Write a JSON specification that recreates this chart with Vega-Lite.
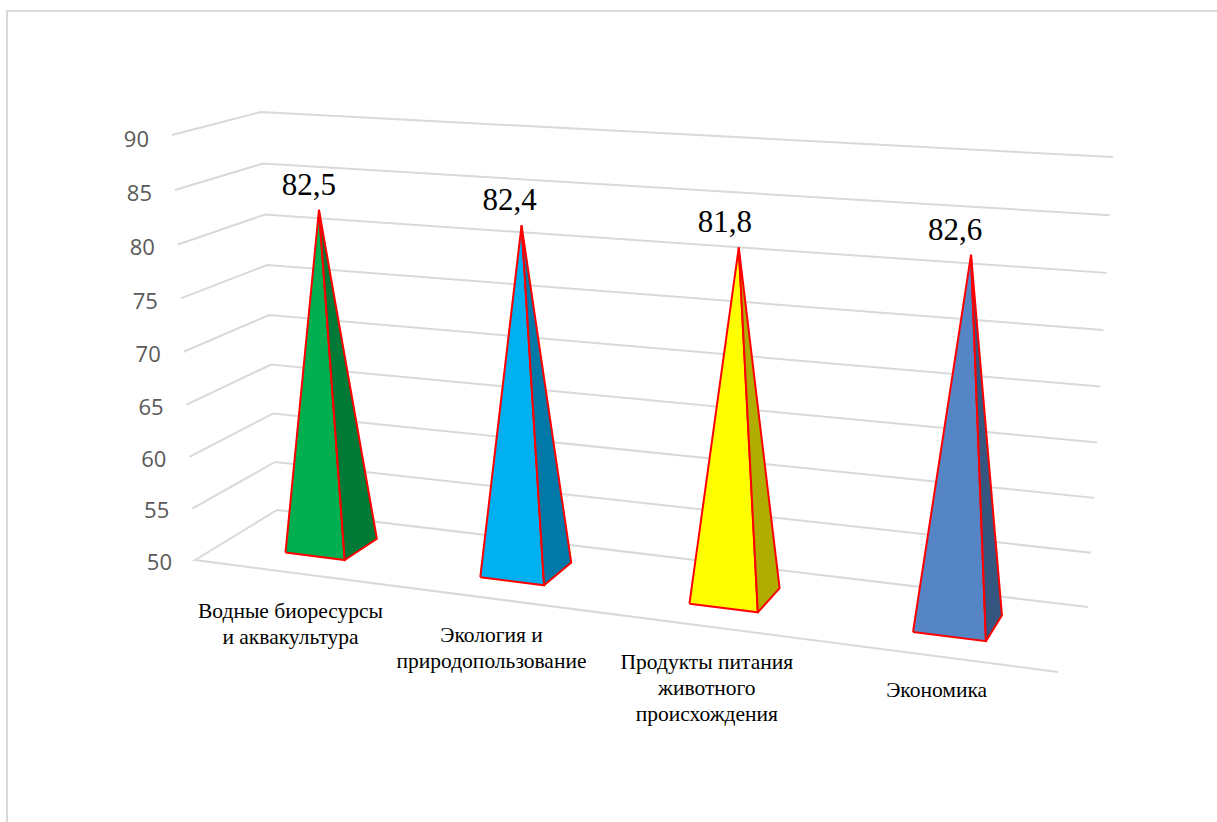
{"$schema":"https://vega.github.io/schema/vega-lite/v6.json","autosize":"none","padding":{"left":7,"top":11,"right":0,"bottom":0},"width":1216,"height":816,"background":"white","config":{"view":{"stroke":"#D9D9D9","strokeWidth":2}},"datasets":{"pyramids":[{"category":"Водные биоресурсы\nи аквакультура","value":82.5},{"category":"Экология и\nприродопользование","value":82.4},{"category":"Продукты питания\nживотного\nпроисхождения","value":81.8},{"category":"Экономика","value":82.6}],"ticks":[{"value":50},{"value":55},{"value":60},{"value":65},{"value":70},{"value":75},{"value":80},{"value":85},{"value":90}]},"layer":[{"data":{"name":"ticks"},"transform":[{"calculate":"[0,1,2,3]","as":"vertex"},{"flatten":["vertex"]},{"filter":"datum.vertex>0||datum.value==50"},{"calculate":"(datum.value-50)/40","as":"t"},{"calculate":"datum.t*(0.96+0.04*datum.t)","as":"tw"},{"calculate":"(datum.vertex==0||datum.vertex==3)?1:0","as":"u"},{"calculate":"datum.vertex>=2?1:0","as":"d"},{"calculate":"(1-datum.tw)*((1-datum.d)*((1-datum.u)*195+datum.u*1058)+datum.d*((1-datum.u)*277+datum.u*1088))+datum.tw*((1-datum.d)*((1-datum.u)*172+datum.u*1079)+datum.d*((1-datum.u)*261+datum.u*1113))","as":"X"},{"calculate":"(1-datum.tw)*((1-datum.d)*((1-datum.u)*560+datum.u*672)+datum.d*((1-datum.u)*510+datum.u*607))+datum.tw*((1-datum.d)*((1-datum.u)*135+datum.u*193)+datum.d*((1-datum.u)*112+datum.u*157))","as":"Y"},{"calculate":"datum.Y+2.5+2*datum.t","as":"labelY"}],"layer":[{"mark":{"type":"line","stroke":"#D9D9D9","strokeWidth":2,"interpolate":"linear"},"encoding":{"x":{"field":"X","type":"quantitative","scale":{"domain":[7,1223],"nice":false,"zero":false},"axis":null},"y":{"field":"Y","type":"quantitative","scale":{"domain":[827,11],"nice":false,"zero":false},"axis":null},"detail":{"field":"value","type":"nominal"},"order":{"field":"vertex","type":"quantitative"}}},{"transform":[{"filter":"datum.vertex==1"}],"mark":{"type":"text","align":"right","baseline":"middle","dx":-23,"font":"Open Sans","fontSize":22,"fill":"#595959"},"encoding":{"x":{"field":"X","type":"quantitative","scale":{"domain":[7,1223],"nice":false,"zero":false},"axis":null},"y":{"field":"labelY","type":"quantitative","scale":{"domain":[827,11],"nice":false,"zero":false},"axis":null},"text":{"field":"value","type":"nominal"}}}]},{"data":{"name":"pyramids"},"transform":[{"window":[{"op":"row_number","as":"rn"}]},{"calculate":"datum.rn-1","as":"i"},{"calculate":"0.110+0.2245*datum.i+0.0085*datum.i*datum.i","as":"c"},{"calculate":"0.035+0.0027*datum.i","as":"h"},{"calculate":"['front','right']","as":"face"},{"flatten":["face"]},{"calculate":"[0,1,2,3]","as":"vertex"},{"flatten":["vertex"]},{"calculate":"datum.face+datum.i","as":"shade"},{"calculate":"(datum.value-50)/40","as":"t"},{"calculate":"datum.vertex==2?datum.t*(0.96+0.04*datum.t):0","as":"tw"},{"calculate":"datum.vertex==2?datum.c:((datum.face=='front'&&(datum.vertex==0||datum.vertex==3))?datum.c-datum.h:datum.c+datum.h+((datum.face=='right'&&datum.vertex==1)?0.002:0))","as":"u"},{"calculate":"datum.vertex==2?0.535:((datum.face=='right'&&datum.vertex==1)?0.74:0.33)","as":"d"},{"calculate":"(1-datum.tw)*((1-datum.d)*((1-datum.u)*195+datum.u*1058)+datum.d*((1-datum.u)*277+datum.u*1088))+datum.tw*((1-datum.d)*((1-datum.u)*172+datum.u*1079)+datum.d*((1-datum.u)*261+datum.u*1113))","as":"X"},{"calculate":"1+(1-datum.tw)*((1-datum.d)*((1-datum.u)*560+datum.u*672)+datum.d*((1-datum.u)*510+datum.u*607))+datum.tw*((1-datum.d)*((1-datum.u)*135+datum.u*193)+datum.d*((1-datum.u)*112+datum.u*157))","as":"Y"},{"calculate":"replace(format(datum.value,'.1f'),'.',',')","as":"valueLabel"},{"calculate":"datum.X-10-2*datum.i","as":"valueX"},{"calculate":"datum.X+5+6.2*datum.i","as":"catX"},{"calculate":"datum.Y+48","as":"catY"}],"layer":[{"mark":{"type":"line","stroke":"#FF0000","strokeWidth":2,"strokeJoin":"miter","interpolate":"linear"},"encoding":{"x":{"field":"X","type":"quantitative","scale":{"domain":[7,1223],"nice":false,"zero":false},"axis":null},"y":{"field":"Y","type":"quantitative","scale":{"domain":[827,11],"nice":false,"zero":false},"axis":null},"fill":{"field":"shade","type":"nominal","legend":null,"scale":{"domain":["front0","right0","front1","right1","front2","right2","front3","right3"],"range":["#00B050","#007A37","#00B0F0","#0079A8","#FFFF00","#B0AD00","#5585C5","#35577F"]}},"detail":{"field":"shade","type":"nominal"},"order":{"field":"vertex","type":"quantitative"}}},{"transform":[{"filter":"datum.face=='front'&&datum.vertex==2"}],"mark":{"type":"text","align":"center","baseline":"middle","dy":-24,"font":"Liberation Serif","fontSize":31,"fill":"#000000"},"encoding":{"x":{"field":"valueX","type":"quantitative","scale":{"domain":[7,1223],"nice":false,"zero":false},"axis":null},"y":{"field":"Y","type":"quantitative","scale":{"domain":[827,11],"nice":false,"zero":false},"axis":null},"text":{"field":"valueLabel","type":"nominal"}}},{"transform":[{"filter":"datum.face=='front'&&datum.vertex==0"}],"mark":{"type":"text","align":"center","baseline":"top","lineBreak":"\n","lineHeight":26,"font":"Liberation Serif","fontSize":21.5,"fill":"#000000"},"encoding":{"x":{"field":"catX","type":"quantitative","scale":{"domain":[7,1223],"nice":false,"zero":false},"axis":null},"y":{"field":"catY","type":"quantitative","scale":{"domain":[827,11],"nice":false,"zero":false},"axis":null},"text":{"field":"category","type":"nominal"}}}]}]}
